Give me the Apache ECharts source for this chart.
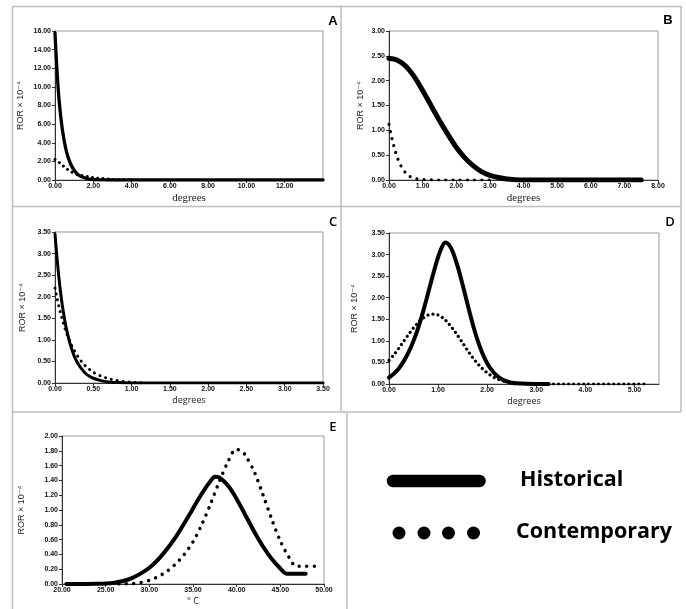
<!DOCTYPE html>
<html><head><meta charset="utf-8">
<script src="https://cdn.jsdelivr.net/npm/echarts@6/dist/echarts.min.js"></script>
<style>html,body{margin:0;padding:0;background:#fff}#c{width:686px;height:609px}</style>
</head><body><div id="c"></div>
<script>
// ---------- DATA ----------
const panelLetters = ['A', 'B', 'C', 'D', 'E'];
const seriesNames = ['Historical', 'Contemporary'];
const xAxisTitles = ['degrees', 'degrees', 'degrees', 'degrees', '° C'];
const yAxisTitle = 'ROR × 10⁻⁴';

const aHistorical = [[0,15.8],[0.05,13.7],[0.1,11.9],[0.15,10.3],[0.2,8.9],[0.25,7.8],[0.3,6.8],[0.4,5.2],[0.5,4.0],[0.6,3.05],[0.7,2.35],[0.8,1.8],[0.9,1.38],[1.0,1.05],[1.1,0.8],[1.2,0.6],[1.3,0.45],[1.4,0.34],[1.6,0.19],[1.8,0.1],[2.0,0.055],[2.3,0.02],[2.6,0.006],[3.0,0],[6,0],[9,0],[12,0],[14,0]];
const aContemporary = [[0,2.2],[0.05,2.15],[0.3,1.74],[0.5,1.39],[0.7,1.07],[0.9,0.82],[1.1,0.63],[1.4,0.48],[1.7,0.36],[2.0,0.26],[2.2,0.2],[2.5,0.15],[2.8,0.11],[3.1,0.06],[3.5,0.03],[4.05,0.01]];

const bHistorical = [[0,2.45],[0.25,2.41],[0.5,2.29],[0.75,2.08],[1.0,1.8],[1.25,1.5],[1.5,1.2],[1.75,0.92],[2.0,0.66],[2.25,0.45],[2.5,0.29],[2.75,0.17],[3.0,0.095],[3.25,0.05],[3.5,0.02],[3.75,0.007],[4.0,0.002],[5,0],[6,0],[7,0],[7.5,0]];
const bContemporary = [[0,1.12],[0.05,0.95],[0.1,0.8],[0.15,0.67],[0.2,0.55],[0.25,0.45],[0.3,0.36],[0.4,0.23],[0.5,0.14],[0.6,0.08],[0.7,0.045],[0.8,0.025],[1.0,0.008],[1.5,0],[2,0],[2.5,0],[3.05,0]];

const cHistorical = [[0,3.45],[0.025,2.92],[0.05,2.46],[0.075,2.07],[0.1,1.75],[0.125,1.48],[0.15,1.25],[0.2,0.89],[0.25,0.63],[0.3,0.45],[0.35,0.32],[0.4,0.22],[0.45,0.155],[0.5,0.11],[0.6,0.055],[0.7,0.025],[0.8,0.01],[1.0,0.002],[1.5,0],[2.5,0],[3.5,0]];
const cContemporary = [[0,2.2],[0.025,1.98],[0.05,1.78],[0.075,1.6],[0.1,1.44],[0.125,1.29],[0.15,1.16],[0.2,0.94],[0.25,0.76],[0.3,0.61],[0.35,0.49],[0.4,0.39],[0.5,0.25],[0.6,0.16],[0.7,0.1],[0.8,0.06],[0.9,0.035],[1.0,0.018],[1.1,0.008],[1.18,0.003]];

const dHistorical = [[0,0.15],[0.1,0.24],[0.2,0.36],[0.3,0.53],[0.4,0.74],[0.5,1.0],[0.6,1.32],[0.7,1.7],[0.8,2.12],[0.9,2.55],[1.0,2.94],[1.08,3.18],[1.15,3.28],[1.22,3.23],[1.3,3.06],[1.4,2.72],[1.5,2.3],[1.6,1.85],[1.7,1.41],[1.8,1.03],[1.9,0.72],[2.0,0.48],[2.1,0.31],[2.2,0.19],[2.3,0.11],[2.4,0.06],[2.5,0.03],[2.6,0.015],[2.8,0.004],[3.0,0.001],[3.25,0]];
const dContemporary = [[0,0.55],[0.1,0.68],[0.2,0.83],[0.3,0.99],[0.4,1.15],[0.5,1.3],[0.6,1.43],[0.7,1.53],[0.8,1.6],[0.9,1.62],[1.0,1.6],[1.1,1.53],[1.2,1.42],[1.3,1.28],[1.4,1.12],[1.5,0.95],[1.6,0.78],[1.7,0.62],[1.8,0.48],[1.9,0.36],[2.0,0.26],[2.1,0.18],[2.2,0.12],[2.3,0.08],[2.4,0.05],[2.5,0.03],[2.6,0.017],[2.8,0.005],[3.0,0.001],[4.0,0],[5.25,0]];

const eHistorical = [[20.5,0],[22,0],[24,0.003],[25,0.007],[26,0.018],[27,0.04],[28,0.08],[29,0.14],[30,0.22],[31,0.33],[32,0.47],[33,0.63],[34,0.82],[35,1.02],[36,1.22],[37,1.39],[37.5,1.45],[38,1.44],[39,1.33],[40,1.15],[41,0.93],[42,0.71],[43,0.51],[44,0.34],[45,0.21],[45.7,0.14],[46.5,0.14],[47.9,0.14]];
const eContemporary = [[26.5,0],[28,0.005],[29,0.02],[30,0.05],[31,0.1],[32,0.17],[33,0.27],[34,0.4],[35,0.57],[36,0.8],[37,1.08],[38,1.38],[39,1.65],[39.9,1.82],[40.5,1.8],[41,1.74],[42,1.52],[43,1.21],[44,0.88],[45,0.58],[46,0.36],[46.8,0.24],[47.5,0.24],[48.9,0.24]];

const historicalData = [aHistorical, bHistorical, cHistorical, dHistorical, eHistorical];
const contemporaryData = [aContemporary, bContemporary, cContemporary, dContemporary, eContemporary];

// axis ranges
const xMin = [0, 0, 0, 0, 20];
const xMax = [14, 8, 3.5, 5.5, 50];
const xStep = [2, 1, 0.5, 1, 5];
const yMax = [16, 3, 3.5, 3.5, 2];
const yStep = [2, 0.5, 0.5, 0.5, 0.2];
const showLastXLabel = [false, true, true, false, true];

// ---------- LAYOUT / STYLE ----------
const grids = [
  {left: 55, top: 31, width: 268, height: 149},
  {left: 389, top: 31, width: 269, height: 149},
  {left: 55, top: 232, width: 268, height: 151},
  {left: 389, top: 233, width: 270, height: 151},
  {left: 62, top: 436, width: 262, height: 148}
];
const yNameGap = [30, 24, 28, 30, 36];
const solidWidth = [3.3, 5, 3, 4, 4];
const dotWidth = [3, 3.2, 3, 3.2, 3.5];
const dotGap = [5.3, 7.2, 6, 5, 7.5];
const xNameFont = [
  {fontFamily: 'Liberation Serif, serif', fontSize: 11},
  {fontFamily: 'Liberation Serif, serif', fontSize: 11},
  {fontFamily: 'Open Sans, sans-serif', fontSize: 9},
  {fontFamily: 'Open Sans, sans-serif', fontSize: 9},
  {fontFamily: 'Open Sans, sans-serif', fontSize: 9}
];
const letterPos = [[333, 21], [668, 20], [333, 222], [670, 222], [333, 427]];
const letterFont = ['bold 13px Liberation Sans', 'bold 13px Liberation Sans', '600 13px Open Sans', '600 13px Open Sans', '600 13px Open Sans'];

const tickFont = {fontFamily: 'Liberation Sans, Arial, sans-serif', fontWeight: 'bold', fontSize: 7, color: '#111'};
const fmt = v => v.toFixed(2);

const chart = echarts.init(document.getElementById('c'), null, {renderer: 'canvas'});

const xAxis = [], yAxis = [], series = [];
for (let i = 0; i < 5; i++) {
  xAxis.push({
    gridIndex: i, type: 'value', min: xMin[i], max: xMax[i], interval: xStep[i],
    axisLine: {show: true, onZero: false, lineStyle: {color: '#333', width: 1}},
    axisTick: {show: true, length: 3, lineStyle: {color: '#333'}},
    splitLine: {show: false},
    axisLabel: Object.assign({margin: 3, formatter: fmt, showMaxLabel: showLastXLabel[i]}, tickFont),
    name: xAxisTitles[i], nameLocation: 'middle', nameGap: 13,
    nameTextStyle: Object.assign({color: '#222'}, xNameFont[i])
  });
  yAxis.push({
    gridIndex: i, type: 'value', min: 0, max: yMax[i], interval: yStep[i],
    axisLine: {show: true, lineStyle: {color: '#333', width: 1}},
    axisTick: {show: true, length: 3, lineStyle: {color: '#333'}},
    splitLine: {show: false},
    axisLabel: Object.assign({margin: 4, formatter: fmt}, tickFont),
    name: yAxisTitle, nameLocation: 'middle', nameGap: yNameGap[i], nameRotate: 90,
    nameTextStyle: {fontFamily: 'Liberation Sans, DejaVu Sans, sans-serif', fontSize: 9, color: '#222'}
  });
  series.push({
    name: seriesNames[1], type: 'line', xAxisIndex: i, yAxisIndex: i,
    data: contemporaryData[i], showSymbol: false, symbol: 'none',
    smooth: 0.3, silent: true, z: 2,
    lineStyle: {color: '#000', width: dotWidth[i], type: [0.01, dotGap[i]], cap: 'round'}
  });
  series.push({
    name: seriesNames[0], type: 'line', xAxisIndex: i, yAxisIndex: i,
    data: historicalData[i], showSymbol: false, symbol: 'none',
    smooth: 0.3, silent: true, z: 3,
    lineStyle: {color: '#000', width: solidWidth[i], cap: 'round', join: 'round'}
  });
}

const border = {stroke: '#bdbdbd', lineWidth: 1.5};
const graphic = [
  {type: 'line', shape: {x1: 12, y1: 6.5, x2: 681, y2: 6.5}, style: border},
  {type: 'line', shape: {x1: 12, y1: 206.5, x2: 681, y2: 206.5}, style: border},
  {type: 'line', shape: {x1: 12, y1: 412, x2: 681, y2: 412}, style: border},
  {type: 'line', shape: {x1: 12.5, y1: 6, x2: 12.5, y2: 609}, style: border},
  {type: 'line', shape: {x1: 341, y1: 6, x2: 341, y2: 412}, style: border},
  {type: 'line', shape: {x1: 681, y1: 6, x2: 681, y2: 412}, style: border},
  {type: 'line', shape: {x1: 347, y1: 412, x2: 347, y2: 609}, style: border}
];
for (let i = 0; i < 5; i++) {
  graphic.push({type: 'text', x: letterPos[i][0], y: letterPos[i][1],
    style: {text: panelLetters[i], font: letterFont[i], fill: '#000',
      align: 'center', verticalAlign: 'middle', textAlign: 'center', textVerticalAlign: 'middle'}});
}
// legend
graphic.push({type: 'line', shape: {x1: 393, y1: 481, x2: 479.5, y2: 481},
  style: {stroke: '#000', lineWidth: 12.5, lineCap: 'round'}});
[399, 424, 448.5, 473.5].forEach(cx => graphic.push({type: 'circle', shape: {cx: cx, cy: 533, r: 6.5}, style: {fill: '#000'}}));
graphic.push({type: 'text', x: 520, y: 479.5, style: {text: seriesNames[0], font: 'bold 21.5px Open Sans', fill: '#000',
  align: 'left', verticalAlign: 'middle', textAlign: 'left', textVerticalAlign: 'middle'}});
graphic.push({type: 'text', x: 516, y: 531.5, style: {text: seriesNames[1], font: 'bold 21.5px Open Sans', fill: '#000',
  align: 'left', verticalAlign: 'middle', textAlign: 'left', textVerticalAlign: 'middle'}});

chart.setOption({
  animation: false,
  backgroundColor: '#fff',
  grid: grids.map(g => Object.assign({show: true, borderColor: '#999', borderWidth: 1, backgroundColor: 'transparent'}, g)),
  xAxis, yAxis, series, graphic
});
</script></body></html>
